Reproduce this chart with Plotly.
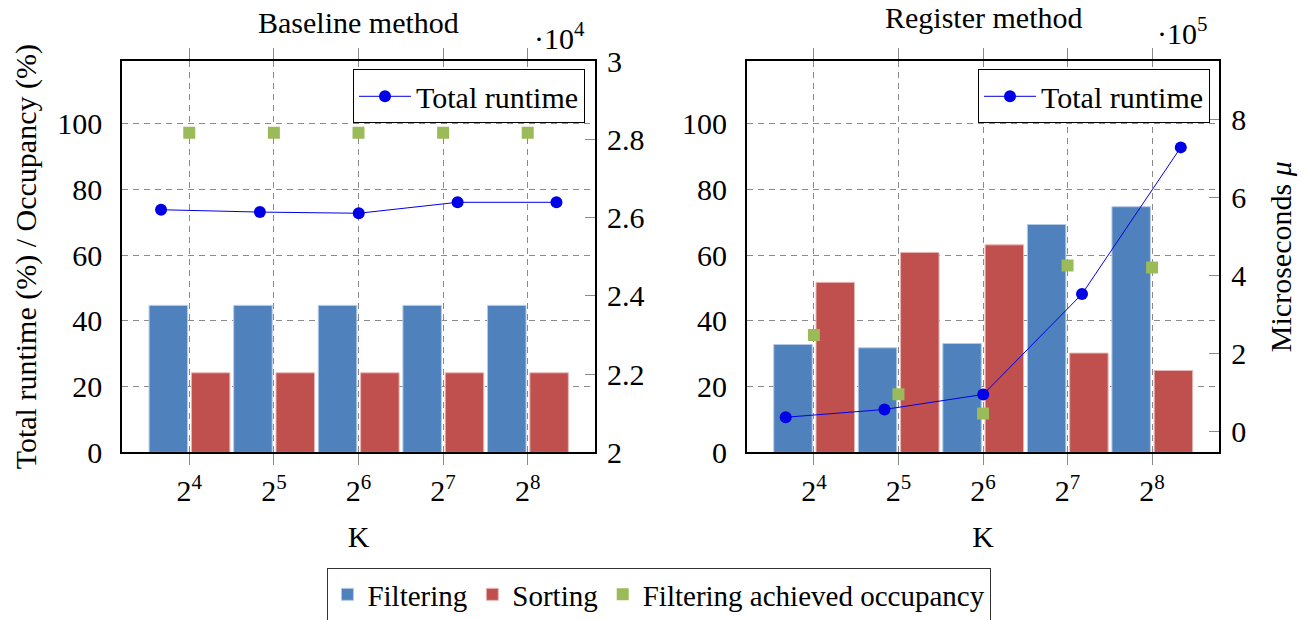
import plotly.graph_objects as go

# K values shown on the category axis
k_labels = ["2<sup>4</sup>", "2<sup>5</sup>", "2<sup>6</sup>", "2<sup>7</sup>", "2<sup>8</sup>"]

# Baseline method: share of total runtime (%) and achieved occupancy (%)
baseline_filtering = [44.7, 44.7, 44.7, 44.7, 44.7]
baseline_sorting = [24.2, 24.2, 24.2, 24.2, 24.2]
baseline_occupancy = [97.2, 97.2, 97.2, 97.2, 97.2]
# Baseline total runtime in microseconds
baseline_runtime = [26200, 26140, 26110, 26390, 26390]

# Register method
register_filtering = [32.8, 31.8, 33.1, 69.3, 74.7]
register_sorting = [51.7, 60.8, 63.1, 30.2, 24.9]
register_occupancy = [35.7, 17.7, 11.8, 56.8, 56.2]
register_runtime = [37000, 57000, 95500, 353000, 729000]

# Right-axis ticks (values in microseconds, labels in scaled units)
baseline_rt_ticks = [20000, 22000, 24000, 26000, 28000, 30000]
baseline_rt_text = ["2", "2.2", "2.4", "2.6", "2.8", "3"]
register_rt_ticks = [0, 200000, 400000, 600000, 800000]
register_rt_text = ["0", "2", "4", "6", "8"]
pct_ticks = [0, 20, 40, 60, 80, 100]

BLUE = "#4F81BD"
RED = "#C0504D"
GREEN = "#9BBB59"
LINE = "#0000E6"
GRID = "#8a8a8a"
FONT = "'Liberation Serif', 'Times New Roman', serif"
FS = 30

W, H = 1311, 620
left_dom = [122 / W, 595 / W]
right_dom = [746.7 / W, 1219.3 / W]
y_dom = [1 - 452.4 / H, 1 - 61 / H]

fig = go.Figure()


def add_panel(xa, ya, xl, yl, filt, sort, occ, rt, rt_legend, show):
    fig.add_trace(go.Bar(
        x=k_labels, y=filt, name="Filtering", xaxis=xa, yaxis=ya,
        offset=-0.475, width=0.455,
        marker=dict(color=BLUE, line=dict(color="#b4cae6", width=1)),
        legend="legend", legendgroup="filt", showlegend=show))
    fig.add_trace(go.Bar(
        x=k_labels, y=sort, name="Sorting", xaxis=xa, yaxis=ya,
        offset=0.025, width=0.455,
        marker=dict(color=RED, line=dict(color="#e6b6b5", width=1)),
        legend="legend", legendgroup="sort", showlegend=show))
    fig.add_trace(go.Scatter(
        x=k_labels, y=occ, name="Filtering achieved occupancy",
        xaxis=xa, yaxis=ya, mode="markers",
        marker=dict(symbol="square", size=12, color=GREEN),
        legend="legend", legendgroup="occ", showlegend=show))
    fig.add_trace(go.Scatter(
        x=k_labels, y=rt, name="Total runtime", xaxis=xl, yaxis=yl,
        mode="lines+markers", line=dict(color=LINE, width=1),
        marker=dict(symbol="circle", size=12, color=LINE),
        legend=rt_legend, showlegend=True))


add_panel("x", "y", "x3", "y3", baseline_filtering, baseline_sorting,
          baseline_occupancy, baseline_runtime, "legend2", True)
add_panel("x2", "y2", "x4", "y4", register_filtering, register_sorting,
          register_occupancy, register_runtime, "legend3", False)

tickfont = dict(family=FONT, size=FS, color="black")


def bar_xaxis(dom, anchor):
    return dict(
        domain=dom, anchor=anchor, type="category", categoryarray=k_labels,
        range=[-0.795, 4.795], showgrid=True, gridcolor=GRID, gridwidth=1,
        griddash="6px,5px", showline=True, linecolor="black", linewidth=1.5,
        mirror="ticks", ticks="outside", ticklen=11, tickcolor=GRID,
        tickwidth=1, tickfont=tickfont, ticklabelstandoff=0,
        title=dict(text="K", font=tickfont, standoff=20), zeroline=False,
        automargin=False)


def pct_yaxis(anchor, title):
    ax = dict(
        domain=y_dom, anchor=anchor, range=[0, 119], tickvals=pct_ticks,
        showgrid=True, gridcolor=GRID, gridwidth=1, griddash="6px,5px",
        showline=True, linecolor="black", linewidth=1.5, mirror=True,
        ticks="", tickfont=tickfont, ticklabelstandoff=12, zeroline=False,
        automargin=False)
    if title:
        ax["title"] = dict(text=title, font=tickfont, standoff=12)
    return ax


def line_xaxis(over, anchor):
    return dict(overlaying=over, anchor=anchor, type="category",
                categoryarray=k_labels, range=[-0.395, 4.39], visible=False)


def rt_yaxis(over, anchor, rng, tv, tt, title=None):
    ax = dict(
        overlaying=over, anchor=anchor, side="right", range=rng,
        tickvals=tv, ticktext=tt, ticks="inside", ticklen=10,
        tickcolor=GRID, tickwidth=1, showgrid=False, showline=False,
        zeroline=False, tickfont=tickfont, ticklabelstandoff=11,
        automargin=False)
    if title:
        ax["title"] = dict(text=title, font=tickfont, standoff=24)
    return ax


def runtime_legend(right_px):
    return dict(x=right_px / W, xanchor="right", y=1 - 69.3 / H,
                yanchor="top", bgcolor="white", bordercolor="black",
                borderwidth=1, itemwidth=52,
                font=dict(family=FONT, size=FS, color="black"))


fig.update_layout(
    width=W, height=H,
    margin=dict(l=0, r=0, t=0, b=0, pad=0, autoexpand=False),
    paper_bgcolor="white", plot_bgcolor="white",
    font=dict(family=FONT, size=FS, color="black"),
    barmode="overlay",
    xaxis=bar_xaxis(left_dom, "y"),
    yaxis=pct_yaxis("x", "Total runtime (%) / Occupancy (%)"),
    xaxis2=bar_xaxis(right_dom, "y2"),
    yaxis2=pct_yaxis("x2", None),
    xaxis3=line_xaxis("x", "y3"),
    yaxis3=rt_yaxis("y", "x", [20000, 30000], baseline_rt_ticks, baseline_rt_text),
    xaxis4=line_xaxis("x2", "y4"),
    yaxis4=rt_yaxis("y2", "x2", [-53100, 950500], register_rt_ticks,
                    register_rt_text, "Microseconds <i>μ</i>"),
    legend=dict(orientation="h", x=0.503, xanchor="center",
                y=1 - 568 / H, yanchor="top", bgcolor="white",
                bordercolor="#333", borderwidth=1,
                font=dict(family=FONT, size=29, color="black"),
                itemwidth=30, tracegroupgap=0),
    legend2=runtime_legend(585),
    legend3=runtime_legend(1210),
    annotations=[
        dict(text="Baseline method", x=sum(left_dom) / 2, y=1 - 22 / H,
             xref="paper", yref="paper", showarrow=False,
             xanchor="center", yanchor="middle", font=tickfont),
        dict(text="Register method", x=sum(right_dom) / 2, y=1 - 17 / H,
             xref="paper", yref="paper", showarrow=False,
             xanchor="center", yanchor="middle", font=tickfont),
        dict(text="·10<sup>4</sup>", x=559 / W, y=1 - 36 / H,
             xref="paper", yref="paper", showarrow=False,
             xanchor="center", yanchor="middle", font=tickfont),
        dict(text="·10<sup>5</sup>", x=1182 / W, y=1 - 31 / H,
             xref="paper", yref="paper", showarrow=False,
             xanchor="center", yanchor="middle", font=tickfont),
    ],
)

fig.write_html("out.html")
